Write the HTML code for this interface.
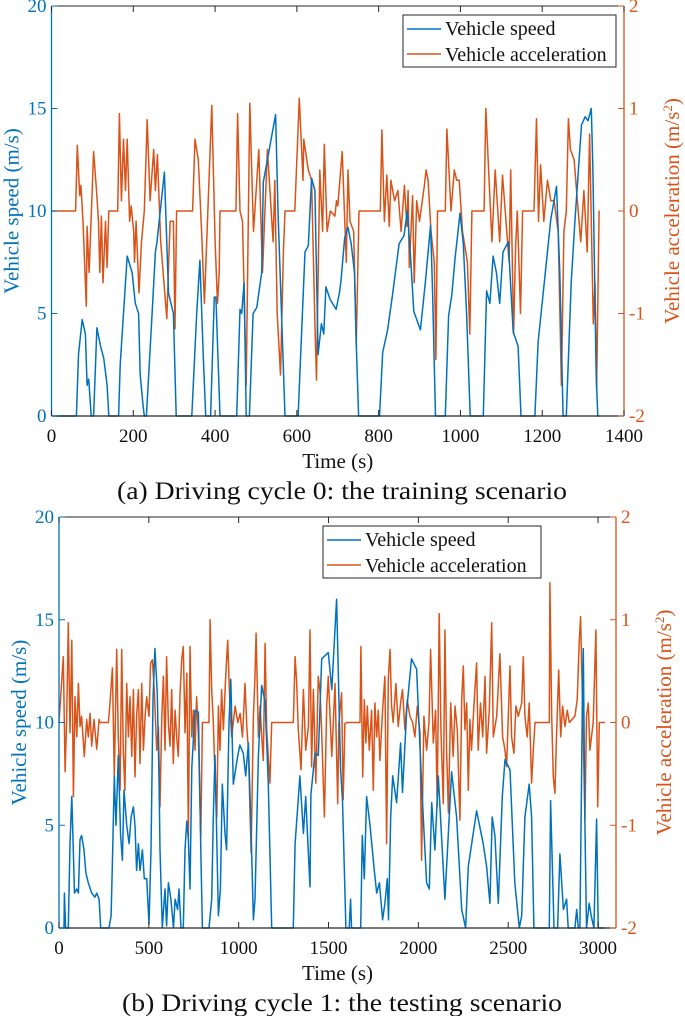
<!DOCTYPE html>
<html><head><meta charset="utf-8"><style>
html,body{margin:0;padding:0;background:#fff;width:685px;height:1016px;overflow:hidden}
svg{display:block;font-family:"Liberation Serif",serif}
</style></head><body>
<svg id="fig" width="685" height="1016" viewBox="0 0 685 1016" xmlns="http://www.w3.org/2000/svg"></svg>
<script>
// ---- Chart (a) data ----
const aSpeedT=[0,61,66,75,83,87,91,97,103,111,120,128,136,140,164,168,176,185,197,205,213,217,224,227,232,246,254,258,276,286,298,305,343,355,363,371,377,389,398,402,412,453,461,465,471,476,484,493,502,514,518,548,554,571,603,620,628,636,644,648,652,660,666,671,681,696,704,708,717,725,733,741,746,751,802,810,822,834,850,862,870,878,886,902,914,927,932,939,963,971,979,987,999,1007,1015,1024,1056,1064,1072,1080,1088,1096,1104,1117,1129,1141,1148,1182,1190,1206,1221,1235,1243,1251,1259,1271,1280,1296,1305,1312,1320,1324,1332,1336,1340];
const aSpeedV=[0,0,3,4.7,4.0,1.5,1.8,0,0,4.3,3.4,2.8,1.5,0,0,2.5,5,7.8,7,5.5,5,2,0.5,0,0,5,8,8.5,11.9,6,5,0,0,5,7.6,3,0,0,5.8,5.8,0,0,5.2,5,6.5,0,0,5,5.3,7,11.4,14.7,10,0,0,8,8.3,11.6,11,7,3,4.5,4,6.3,5.7,5.2,6,6.6,8.7,9.2,8.4,7,3,0,0,3.1,4.2,5.9,8.4,8.8,10,7.8,5.1,4.2,6.5,9.3,6,0,0,4.9,5.9,7.7,9.9,8.4,5,0,0,6.1,5.5,7.8,7,5.5,8,8.5,4.1,3.4,0,0,3.6,6.7,9.6,11.2,7,0,0,6.5,9.5,14.2,14.6,14.4,15,12,2,0,0];
const aAccT=[0,59,63,69,72,77,85,87,92,99,103,110,115,118,122,126,132,136,140,162,166,171,176,181,185,191,195,201,203,207,214,220,227,234,241,250,254,259,267,282,290,298,302,306,345,351,359,367,374,392,400,406,410,412,451,455,461,467,476,485,494,507,516,528,542,546,552,560,567,571,595,606,615,617,628,636,644,648,656,663,667,674,682,693,697,700,711,721,725,730,739,745,752,804,808,814,820,826,830,839,847,855,863,869,872,875,883,887,893,900,912,916,921,928,936,940,944,963,967,977,985,991,997,1005,1017,1023,1028,1058,1062,1070,1077,1085,1096,1103,1119,1123,1130,1135,1139,1147,1152,1180,1186,1191,1196,1204,1213,1221,1229,1239,1247,1253,1259,1264,1269,1278,1286,1294,1302,1310,1316,1322,1325,1329,1333,1339,1340];
const aAccV=[0,0,0.64,0.15,0.25,-0.1,-0.93,-0.15,-0.6,0.15,0.58,0.2,-0.1,-0.6,-0.05,-0.7,-0.1,-0.55,0,0,0.95,0.1,0.7,0.2,0.7,-0.1,0.05,-0.2,-0.5,-0.1,-0.8,-0.3,0,0.89,0.1,0.6,0.2,0.55,-0.3,-1.05,-0.1,-0.1,-1.15,0,0,0.7,0.5,-0.2,-0.9,1.03,-0.3,-0.9,-0.6,0,0,0.95,0,-0.1,-1.7,1.05,-0.2,0.6,-0.6,0.6,-0.3,0.3,-1.0,-1.6,-0.4,0,0,1.1,0.3,0.7,0.4,0.3,-1.1,-1.65,0.4,-0.2,0.65,-0.2,0,-0.05,0.1,0.05,0.58,-0.5,0.4,-0.1,-0.2,-1.32,0,0,0.79,-0.1,0.35,-0.15,0.3,0.1,0.2,-0.2,0.25,-0.15,0.2,-0.55,0.15,-0.7,0.1,-0.1,0.25,0.4,0.3,-0.2,-0.5,-1.45,0,0,0.8,0,0.4,0.3,0.3,-0.2,-0.5,-1.2,0,0,1.0,0.3,-0.3,0.4,-0.3,0.35,-0.5,0.4,-1.2,-0.35,0,-1.0,0,0,0.9,-0.1,0.45,-0.1,0.3,0.1,0.1,-0.2,-1.7,-0.2,0,0.9,0.6,0.5,0.1,-0.3,0.2,-0.4,0.75,-0.5,-1.1,-0.7,-1.75,0,0];
const aXTicks=[0,200,400,600,800,1000,1200,1400];

// ---- Chart (b) data ----
const bSpeedT=[0,28,30,37,52,61,71,86,99,108,117,126,139,149,163,182,200,210,223,232,278,290,299,308,317,330,343,353,362,377,390,401,414,423,432,442,451,464,475,488,501,512,523,534,547,557,562,575,590,599,609,623,637,646,660,668,679,692,701,711,720,729,739,757,776,789,798,835,850,859,868,887,898,909,924,933,946,956,970,995,1007,1026,1039,1054,1069,1082,1091,1110,1128,1147,1165,1184,1304,1314,1341,1360,1373,1388,1397,1402,1425,1443,1462,1499,1518,1545,1560,1567,1578,1597,1615,1623,1628,1679,1688,1699,1712,1731,1755,1768,1783,1801,1814,1827,1834,1846,1857,1879,1901,1912,1935,1962,1990,2018,2046,2061,2074,2092,2111,2148,2185,2213,2241,2263,2278,2324,2361,2380,2398,2411,2426,2445,2467,2482,2510,2537,2562,2575,2593,2617,2630,2643,2729,2736,2755,2775,2788,2807,2825,2834,2871,2881,2890,2899,2914,2918,2927,2936,2951,2962,2977,2992,3001,3038];
const bSpeedV=[0,0,1.7,0,0,4.1,6.4,1.7,1.9,1.7,4.3,4.5,3.8,2.7,2.2,1.7,1.5,1.7,1.4,0,0,0.6,3.8,7.4,5,8.4,4.5,3.3,6.7,5,4.1,5.4,5.9,5,2.8,4.1,2.8,3.8,2.4,2.4,0.2,3.8,11.1,13.6,11.4,7,3.8,0,1.9,0.1,2.2,1.4,0,1.4,0.9,1.9,0,0,3.8,5.2,4.3,1.9,7.8,10.6,10.5,3.8,0,0,1.4,5.4,8.4,0.6,1.9,7,4.6,3.8,10,12.1,7,8.4,8.9,8.5,7.4,9,4.7,0.4,1.4,8.4,11.8,11,7,0,0,4.1,7.4,4.6,6.4,3.6,2,6.5,8.5,8.4,13.1,13.4,11.6,16,10.3,7.7,6.2,0,0,1.4,0,0,4.5,2.4,6.4,5,2.8,1.7,2.2,0.4,1.2,2.4,0.4,5.4,7.4,6.1,9,6.6,10.6,13.1,12.6,7,2.2,1.9,6.1,3.8,7.4,1.4,7.6,5.4,0.9,0,3,5.7,4.1,3,1.2,5.4,4.5,1.2,6.4,8.2,7.7,2.2,0,0.6,5.4,7,5.4,0,0,6.2,0,0,3.6,0.9,1.4,0,0,0.9,0,0,11.9,13.6,5.1,0,1.2,0.6,0,5.3,0,0];
const bAccT=[0,24,34,43,52,61,71,80,89,99,108,117,126,141,154,163,173,182,195,210,223,228,275,284,297,308,321,330,340,349,358,367,377,386,395,405,414,423,432,442,451,460,470,479,488,501,510,520,531,544,553,562,572,581,590,599,609,618,627,636,646,655,664,674,683,692,701,711,720,729,739,748,757,766,776,789,798,835,841,850,859,868,878,887,896,905,915,928,939,952,961,980,995,1008,1021,1035,1045,1054,1069,1082,1091,1097,1110,1119,1128,1137,1147,1156,1174,1184,1304,1314,1323,1332,1347,1360,1373,1388,1397,1406,1416,1429,1443,1453,1462,1477,1490,1499,1518,1536,1551,1558,1573,1582,1591,1601,1675,1680,1690,1699,1708,1716,1727,1740,1749,1758,1768,1777,1786,1801,1814,1823,1833,1842,1851,1860,1875,1888,1901,1912,1925,1938,1953,1968,1981,1994,2009,2018,2031,2046,2059,2068,2083,2096,2105,2116,2126,2139,2148,2157,2167,2180,2194,2204,2217,2231,2241,2250,2259,2269,2278,2287,2296,2309,2324,2333,2346,2358,2371,2380,2395,2408,2417,2436,2454,2469,2482,2491,2510,2519,2532,2543,2556,2575,2584,2593,2606,2617,2630,2640,2649,2729,2732,2742,2751,2760,2769,2781,2792,2803,2816,2829,2840,2871,2884,2896,2903,2910,2918,2927,2936,2946,2955,2973,2988,2998,3007,3038];
const bAccV=[0,0.64,-0.48,0.06,0.97,-0.1,0.8,-0.72,0.25,-0.14,0.38,-0.04,0.06,-0.33,0.03,-0.14,0.09,-0.23,0.03,-0.26,0.03,0,0,0.19,0.53,-0.53,0.71,-0.14,-0.66,0.71,-0.27,-0.66,0.38,-0.14,0.25,-0.33,0.32,-0.53,0.06,0.32,-0.4,0.38,-0.27,0.06,0.25,0.06,0.58,0.61,0.29,-0.27,-0.04,-0.82,0.06,0.45,-0.27,0.64,-0.01,-0.23,0.32,-0.4,0.12,-0.14,-0.33,0.29,0.61,0.74,-0.1,0.48,-1.11,0.74,-0.14,0.12,-0.27,0.25,-0.14,-1.11,0,0,1.0,0.32,0,-0.53,-0.92,0.16,-0.27,0.32,-0.07,0.45,0.8,0.12,-0.14,0.16,0,0.09,-0.14,0.38,-0.04,-0.27,-1.27,0.06,0.45,0.87,-0.14,0.16,-0.14,-0.37,0.77,-0.07,-0.59,0,0,0.64,0.38,-0.07,-0.46,0.32,-0.27,-0.04,0.9,-0.43,0.32,-0.59,0.45,0.29,-0.1,-0.92,0.16,0.45,-0.33,0.38,-0.79,-0.01,0.29,-0.75,-0.01,0,0,0.74,-0.53,0.22,-0.2,0.16,-0.27,0.12,-0.66,0.19,-0.14,0.12,-0.37,0.12,0.45,-1.18,0.42,0.71,0.16,0,0.38,-0.04,0.19,0.32,-0.07,0.22,0.06,0,-0.14,0.16,-0.1,-1.34,0.06,-0.27,0,0.71,-0.2,0.12,-0.82,1.06,-0.1,-0.79,0.9,-0.27,-0.88,0.19,-0.33,0.16,-0.07,-0.95,0.22,0.55,-0.07,0.19,-0.66,0.03,-0.27,0.16,0.58,-0.27,0.19,-0.14,0.45,-0.3,0.12,0.97,-0.14,0.06,0.67,-0.14,-0.27,-0.43,0.55,-0.14,-0.3,0.16,0.06,0.19,0.64,0.06,-0.14,0.19,-0.59,-0.27,0,0,1.36,0.06,-0.53,-0.69,-0.14,0.51,-0.14,0.16,-0.04,0.12,0,0.06,0.22,0.8,1.03,0.45,-0.14,-0.95,0.06,0.19,-0.27,0,0.9,-0.82,0,0];
const bXTicks=[0,500,1000,1500,2000,2500,3000];
const yLeftTicks=[0,5,10,15,20];
const yRightTicks=[-2,-1,0,1,2];

const NS="http://www.w3.org/2000/svg";
const svg=document.getElementById('fig');
const BLUE="#0072BD", ORANGE="#D95319";
function mk(tag,attrs,parent,text){const e=document.createElementNS(NS,tag);for(const k in attrs)e.setAttribute(k,attrs[k]);if(text!==undefined)e.textContent=text;(parent||svg).appendChild(e);return e;}

function panel(id,cfg){
  const g=mk('g',{});
  
  
  const xs=t=>cfg.L+(t/cfg.xmax)*(cfg.R-cfg.L);
  const ys=v=>cfg.B-(v/20)*(cfg.B-cfg.T);
  const ya=a=>cfg.B-((a+2)/4)*(cfg.B-cfg.T);
  let d='';cfg.accT.forEach((t,i)=>{d+=(i?'L':'M')+xs(t).toFixed(1)+','+ya(cfg.accV[i]).toFixed(1);});
  const pa=mk('path',{d:d,fill:'none',stroke:ORANGE,'stroke-width':1.5,'stroke-linejoin':'round'},g);
  
  
  d='';cfg.spT.forEach((t,i)=>{d+=(i?'L':'M')+xs(t).toFixed(1)+','+ys(cfg.spV[i]).toFixed(1);});
  const ps=mk('path',{d:d,fill:'none',stroke:BLUE,'stroke-width':1.5,'stroke-linejoin':'round'},g);
  
  
  mk('line',{x1:cfg.L,y1:cfg.T,x2:cfg.R,y2:cfg.T,stroke:'#262626','stroke-width':1},g);
  mk('line',{x1:cfg.L,y1:cfg.B,x2:cfg.R,y2:cfg.B,stroke:'#262626','stroke-width':1.2},g);
  mk('line',{x1:cfg.L,y1:cfg.T,x2:cfg.L,y2:cfg.B,stroke:BLUE,'stroke-width':1.3},g);
  mk('line',{x1:cfg.R,y1:cfg.T,x2:cfg.R,y2:cfg.B,stroke:ORANGE,'stroke-width':1.3},g);
  cfg.xt.forEach(t=>{const x=xs(t);
    mk('line',{x1:x,y1:cfg.B,x2:x,y2:cfg.B-6,stroke:'#262626'},g);
    mk('line',{x1:x,y1:cfg.T,x2:x,y2:cfg.T+6,stroke:'#262626'},g);
    const tx=mk('text',{x:x,y:cfg.B+26,'text-anchor':'middle','font-size':19,fill:'#111'},g,String(t));
    
    
  });
  yLeftTicks.forEach(v=>{const y=ys(v);
    mk('line',{x1:cfg.L,y1:y,x2:cfg.L+6,y2:y,stroke:BLUE},g);
    const tx=mk('text',{x:cfg.L-5,y:y+6,'text-anchor':'end','font-size':19,fill:BLUE},g,String(v));
    
    
  });
  yRightTicks.forEach(v=>{const y=ya(v);
    mk('line',{x1:cfg.R,y1:y,x2:cfg.R-6,y2:y,stroke:ORANGE},g);
    const tx=mk('text',{x:cfg.R+5,y:y+6,'text-anchor':'start','font-size':19,fill:ORANGE},g,String(v));
    
    
  });
  const mid=(cfg.T+cfg.B)/2;
  const xl=mk('text',{x:(cfg.L+cfg.R)/2,y:cfg.B+52,'text-anchor':'middle','font-size':21,fill:'#111'},g,'Time (s)');
  
  
  const yl=mk('text',{x:0,y:0,'text-anchor':'middle','font-size':21,fill:BLUE,transform:`translate(${cfg.L-33},${mid}) rotate(-90)`},g,'Vehicle speed (m/s)');
  
  
  const yr=mk('text',{x:0,y:0,'text-anchor':'middle','font-size':21,fill:ORANGE,transform:`translate(${cfg.R+55},${mid}) rotate(-90)`},g);
  yr.appendChild(document.createTextNode('Vehicle acceleration (m/s'));
  mk('tspan',{dy:-7,'font-size':13},yr,'2');
  mk('tspan',{dy:7},yr,')');
  
  
  const lg=mk('g',{},g);
  
  
  mk('rect',{x:cfg.lx,y:cfg.ly,width:cfg.lw,height:52,fill:'#fff',stroke:'#262626','stroke-width':1},lg);
  mk('line',{x1:cfg.lx+4,y1:cfg.ly+14,x2:cfg.lx+38,y2:cfg.ly+14,stroke:BLUE,'stroke-width':1.5},lg);
  mk('line',{x1:cfg.lx+4,y1:cfg.ly+39,x2:cfg.lx+38,y2:cfg.ly+39,stroke:ORANGE,'stroke-width':1.5},lg);
  const e1=mk('text',{x:cfg.lx+42,y:cfg.ly+20,'font-size':20,fill:'#111'},lg,'Vehicle speed');
  
  
  const e2=mk('text',{x:cfg.lx+42,y:cfg.ly+46,'font-size':20,fill:'#111'},lg,'Vehicle acceleration');
  
  
  const cap=mk('text',{x:342,y:cfg.B+83,'text-anchor':'middle','font-size':25,fill:'#111',textLength:cfg.capW,lengthAdjust:'spacingAndGlyphs'},g,cfg.caption);
  
  
}
panel('cycle-0',{L:51.5,R:624,T:6,B:416,xmax:1400,spT:aSpeedT,spV:aSpeedV,accT:aAccT,accV:aAccV,xt:aXTicks,lx:403,ly:15,lw:213,capW:450,caption:'(a) Driving cycle 0: the training scenario'});
panel('cycle-1',{L:59,R:616,T:517,B:928,xmax:3100,spT:bSpeedT,spV:bSpeedV,accT:bAccT,accV:bAccV,xt:bXTicks,lx:323,ly:526,lw:218,capW:440,caption:'(b) Driving cycle 1: the testing scenario'});
</script>
</body></html>
